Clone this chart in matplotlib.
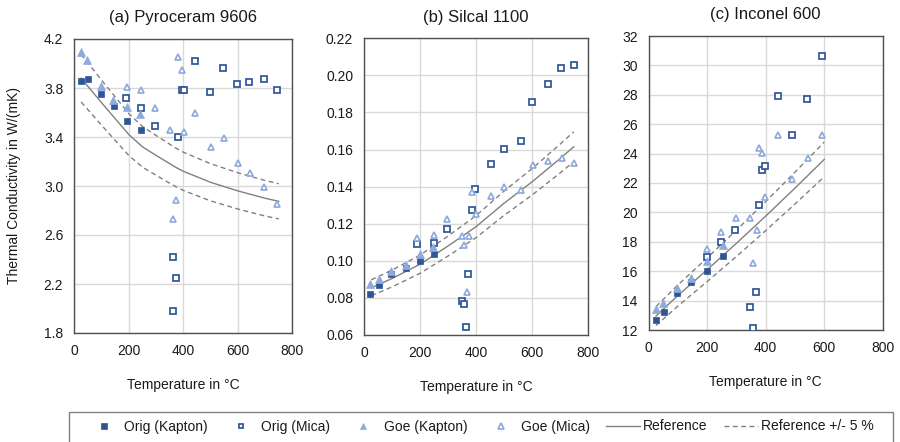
import matplotlib
matplotlib.use("Agg")
import matplotlib.pyplot as plt
from matplotlib.patches import Rectangle
import numpy as np

plt.rcParams['font.family'] = ['Liberation Sans', 'DejaVu Sans']

# ---------------- data ----------------
titles = ["(a) Pyroceram 9606", "(b) Silcal 1100", "(c) Inconel 600"]
x_label = "Temperature in °C"
y_label = "Thermal Conductivity in W/(mK)"
series_names = ["Orig (Kapton)", "Orig (Mica)", "Goe (Kapton)", "Goe (Mica)",
                "Reference", "Reference +/- 5 %"]
tolerance = 0.05

# (a) Pyroceram 9606
a_ok_T = [25, 51, 99, 146, 193, 243]
a_ok_k = [3.86, 3.87, 3.75, 3.65, 3.53, 3.46]
a_om_T = [191, 243, 296, 379, 363, 372, 362, 394, 401, 442, 498, 547, 597, 642, 695, 744]
a_om_k = [3.72, 3.64, 3.49, 3.40, 2.42, 2.25, 1.98, 3.78, 3.78, 4.02, 3.77, 3.96, 3.83, 3.85, 3.87, 3.78]
a_gk_T = [24, 48, 97, 143, 193, 241]
a_gk_k = [4.09, 4.03, 3.82, 3.70, 3.645, 3.59]
a_gm_T = [192, 243, 297, 350, 380, 395, 402, 444, 500, 548, 599, 643, 696, 745, 373, 363]
a_gm_k = [3.81, 3.78, 3.64, 3.455, 4.056, 3.947, 3.44, 3.594, 3.322, 3.393, 3.189, 3.105,
          2.988, 2.855, 2.884, 2.732]
a_ref_T = [25, 100, 200, 250, 300, 370, 400, 500, 600, 700, 750]
a_ref_k = [3.88, 3.68, 3.42, 3.32, 3.25, 3.155, 3.12, 3.03, 2.96, 2.90, 2.875]

# (b) Silcal 1100
b_ok_T = [21.5, 52.5, 97, 149, 199, 248]
b_ok_k = [0.0823, 0.0870, 0.0927, 0.0960, 0.0997, 0.1039]
b_om_T = [190, 248, 295, 350, 357, 365, 372.5, 384.5, 397.6, 454, 500, 561, 602, 658, 704.5, 750]
b_om_k = [0.1091, 0.1096, 0.1173, 0.0783, 0.0767, 0.0643, 0.0931, 0.1272, 0.1386, 0.1520,
          0.1603, 0.1644, 0.1855, 0.1954, 0.2042, 0.2058]
b_gk_T = [21.5, 52.5, 95.5, 148, 199, 247]
b_gk_k = [0.0875, 0.0902, 0.0943, 0.0978, 0.1039, 0.1076]
b_gm_T = [190, 249.6, 297, 350, 358, 374, 369, 385.5, 400, 454, 501, 562, 604, 658, 708, 751]
b_gm_k = [0.1121, 0.1139, 0.1228, 0.1136, 0.1087, 0.1132, 0.0834, 0.1371, 0.1254, 0.1351,
          0.1397, 0.1381, 0.1515, 0.1537, 0.1553, 0.1527]
b_ref_T = [25, 100, 200, 300, 400, 500, 600, 700, 750]
b_ref_k = [0.0855, 0.0905, 0.0982, 0.1080, 0.1184, 0.1310, 0.1425, 0.1550, 0.1615]

# (c) Inconel 600
c_ok_T = [25, 51, 97, 146, 200.6, 254]
c_ok_k = [12.66, 13.25, 14.54, 15.24, 16.04, 17.06]
c_om_T = [198, 247, 296, 345, 356, 367, 377, 387.5, 397.7, 443, 491, 540, 593]
c_om_k = [16.94, 17.99, 18.83, 13.56, 12.11, 14.59, 20.53, 22.86, 23.13, 27.92, 25.27, 27.74, 30.62]
c_gk_T = [24, 50, 97, 145, 199, 253]
c_gk_k = [13.41, 13.84, 14.88, 15.51, 16.72, 17.78]
c_gm_T = [199, 248, 297, 346, 357, 369, 378, 389, 399, 443, 491, 544, 594]
c_gm_k = [17.49, 18.67, 19.64, 19.64, 16.58, 18.80, 24.40, 24.02, 21.07, 25.24, 22.27, 23.68, 25.29]
c_ref_T = [25, 100, 200, 300, 400, 500, 600]
c_ref_k = [12.95, 14.35, 16.10, 17.90, 19.75, 21.65, 23.60]

x_ticks = [0, 200, 400, 600, 800]
a_y_ticks = [1.8, 2.2, 2.6, 3.0, 3.4, 3.8, 4.2]
b_y_ticks = [0.06, 0.08, 0.10, 0.12, 0.14, 0.16, 0.18, 0.20, 0.22]
c_y_ticks = [12, 14, 16, 18, 20, 22, 24, 26, 28, 30, 32]

# ---------------- style ----------------
dark_blue = '#2F5597'
light_blue = '#8FAADC'
ref_grey = '#808080'
text_col = '#1a1a1a'

fig = plt.figure(figsize=(9.0, 4.42), dpi=100)
W, H = 900.0, 442.0

def pos(l, r, t, b):
    return [l / W, (H - b) / H, (r - l) / W, (b - t) / H]

axes_pos = [pos(74.3, 292.4, 39, 333), pos(364.3, 587.7, 38.3, 335), pos(648.7, 882.7, 36, 330)]

panels = [
    (a_ok_T, a_ok_k, a_om_T, a_om_k, a_gk_T, a_gk_k, a_gm_T, a_gm_k, a_ref_T, a_ref_k, a_y_ticks, "%.1f"),
    (b_ok_T, b_ok_k, b_om_T, b_om_k, b_gk_T, b_gk_k, b_gm_T, b_gm_k, b_ref_T, b_ref_k, b_y_ticks, "%.2f"),
    (c_ok_T, c_ok_k, c_om_T, c_om_k, c_gk_T, c_gk_k, c_gm_T, c_gm_k, c_ref_T, c_ref_k, c_y_ticks, "%d"),
]

handles = None
for i, (p, ap) in enumerate(zip(panels, axes_pos)):
    okT, okk, omT, omk, gkT, gkk, gmT, gmk, rT, rk, yt, fmt = p
    ax = fig.add_axes(ap)
    rk_arr = np.array(rk)
    h_ref, = ax.plot(rT, rk, color=ref_grey, lw=1.0, zorder=2)
    h_tol, = ax.plot(rT, rk_arr * (1 + tolerance), color=ref_grey, lw=1.0,
                     linestyle=(0, (3.5, 2.5)), zorder=2)
    ax.plot(rT, rk_arr * (1 - tolerance), color=ref_grey, lw=1.0,
            linestyle=(0, (3.5, 2.5)), zorder=2)
    h_ok, = ax.plot(okT, okk, linestyle='none', marker='s', ms=4.7, mfc=dark_blue,
                    mec=dark_blue, mew=0.5, zorder=3)
    h_om, = ax.plot(omT, omk, linestyle='none', marker='s', ms=3.8, mfc='white',
                    mec=dark_blue, mew=1.25, zorder=3)
    h_gk, = ax.plot(gkT, gkk, linestyle='none', marker='^', ms=5.8, mfc=light_blue,
                    mec=light_blue, mew=0.5, zorder=3)
    h_gm, = ax.plot(gmT, gmk, linestyle='none', marker='^', ms=4.7, mfc='white',
                    mec=light_blue, mew=1.25, zorder=3)
    if handles is None:
        handles = [h_ok, h_om, h_gk, h_gm, h_ref, h_tol]

    ax.set_xlim(x_ticks[0], x_ticks[-1])
    ax.set_ylim(yt[0], yt[-1])
    ax.set_xticks(x_ticks)
    ax.set_yticks(yt)
    ax.set_yticklabels([fmt % v for v in yt])
    ax.grid(True, color='#D9D9D9', lw=1.0, zorder=0)
    ax.set_axisbelow(True)
    ax.tick_params(length=0, labelsize=10, pad=8, labelcolor=text_col)
    for s in ax.spines.values():
        s.set_color('#505050')
        s.set_linewidth(1.0)
    ax.set_title(titles[i], fontsize=12, pad=12, color=text_col)
    ax.set_xlabel(x_label, fontsize=10, labelpad=14, color=text_col)
    if i == 0:
        ax.set_ylabel(y_label, fontsize=10, labelpad=16, color=text_col)

# legend frame drawn separately, entries spread across it
frame = Rectangle((69 / W, -10 / H), (893 - 69) / W, (H - 411.7 + 10) / H,
                  transform=fig.transFigure, fill=False, edgecolor='#808080',
                  lw=1.0, clip_on=False)
fig.add_artist(frame)

leg = fig.legend(handles, series_names, loc='center left', ncol=6,
                 bbox_to_anchor=(87 / W, (H - 426.5) / H, (874 - 87) / W, 0),
                 mode='expand', borderaxespad=0, borderpad=0, fontsize=10,
                 frameon=False, handlelength=2.4, handletextpad=0.25,
                 markerscale=0.85)
for t in leg.get_texts():
    t.set_color(text_col)

fig.savefig("out.png", dpi=100)
